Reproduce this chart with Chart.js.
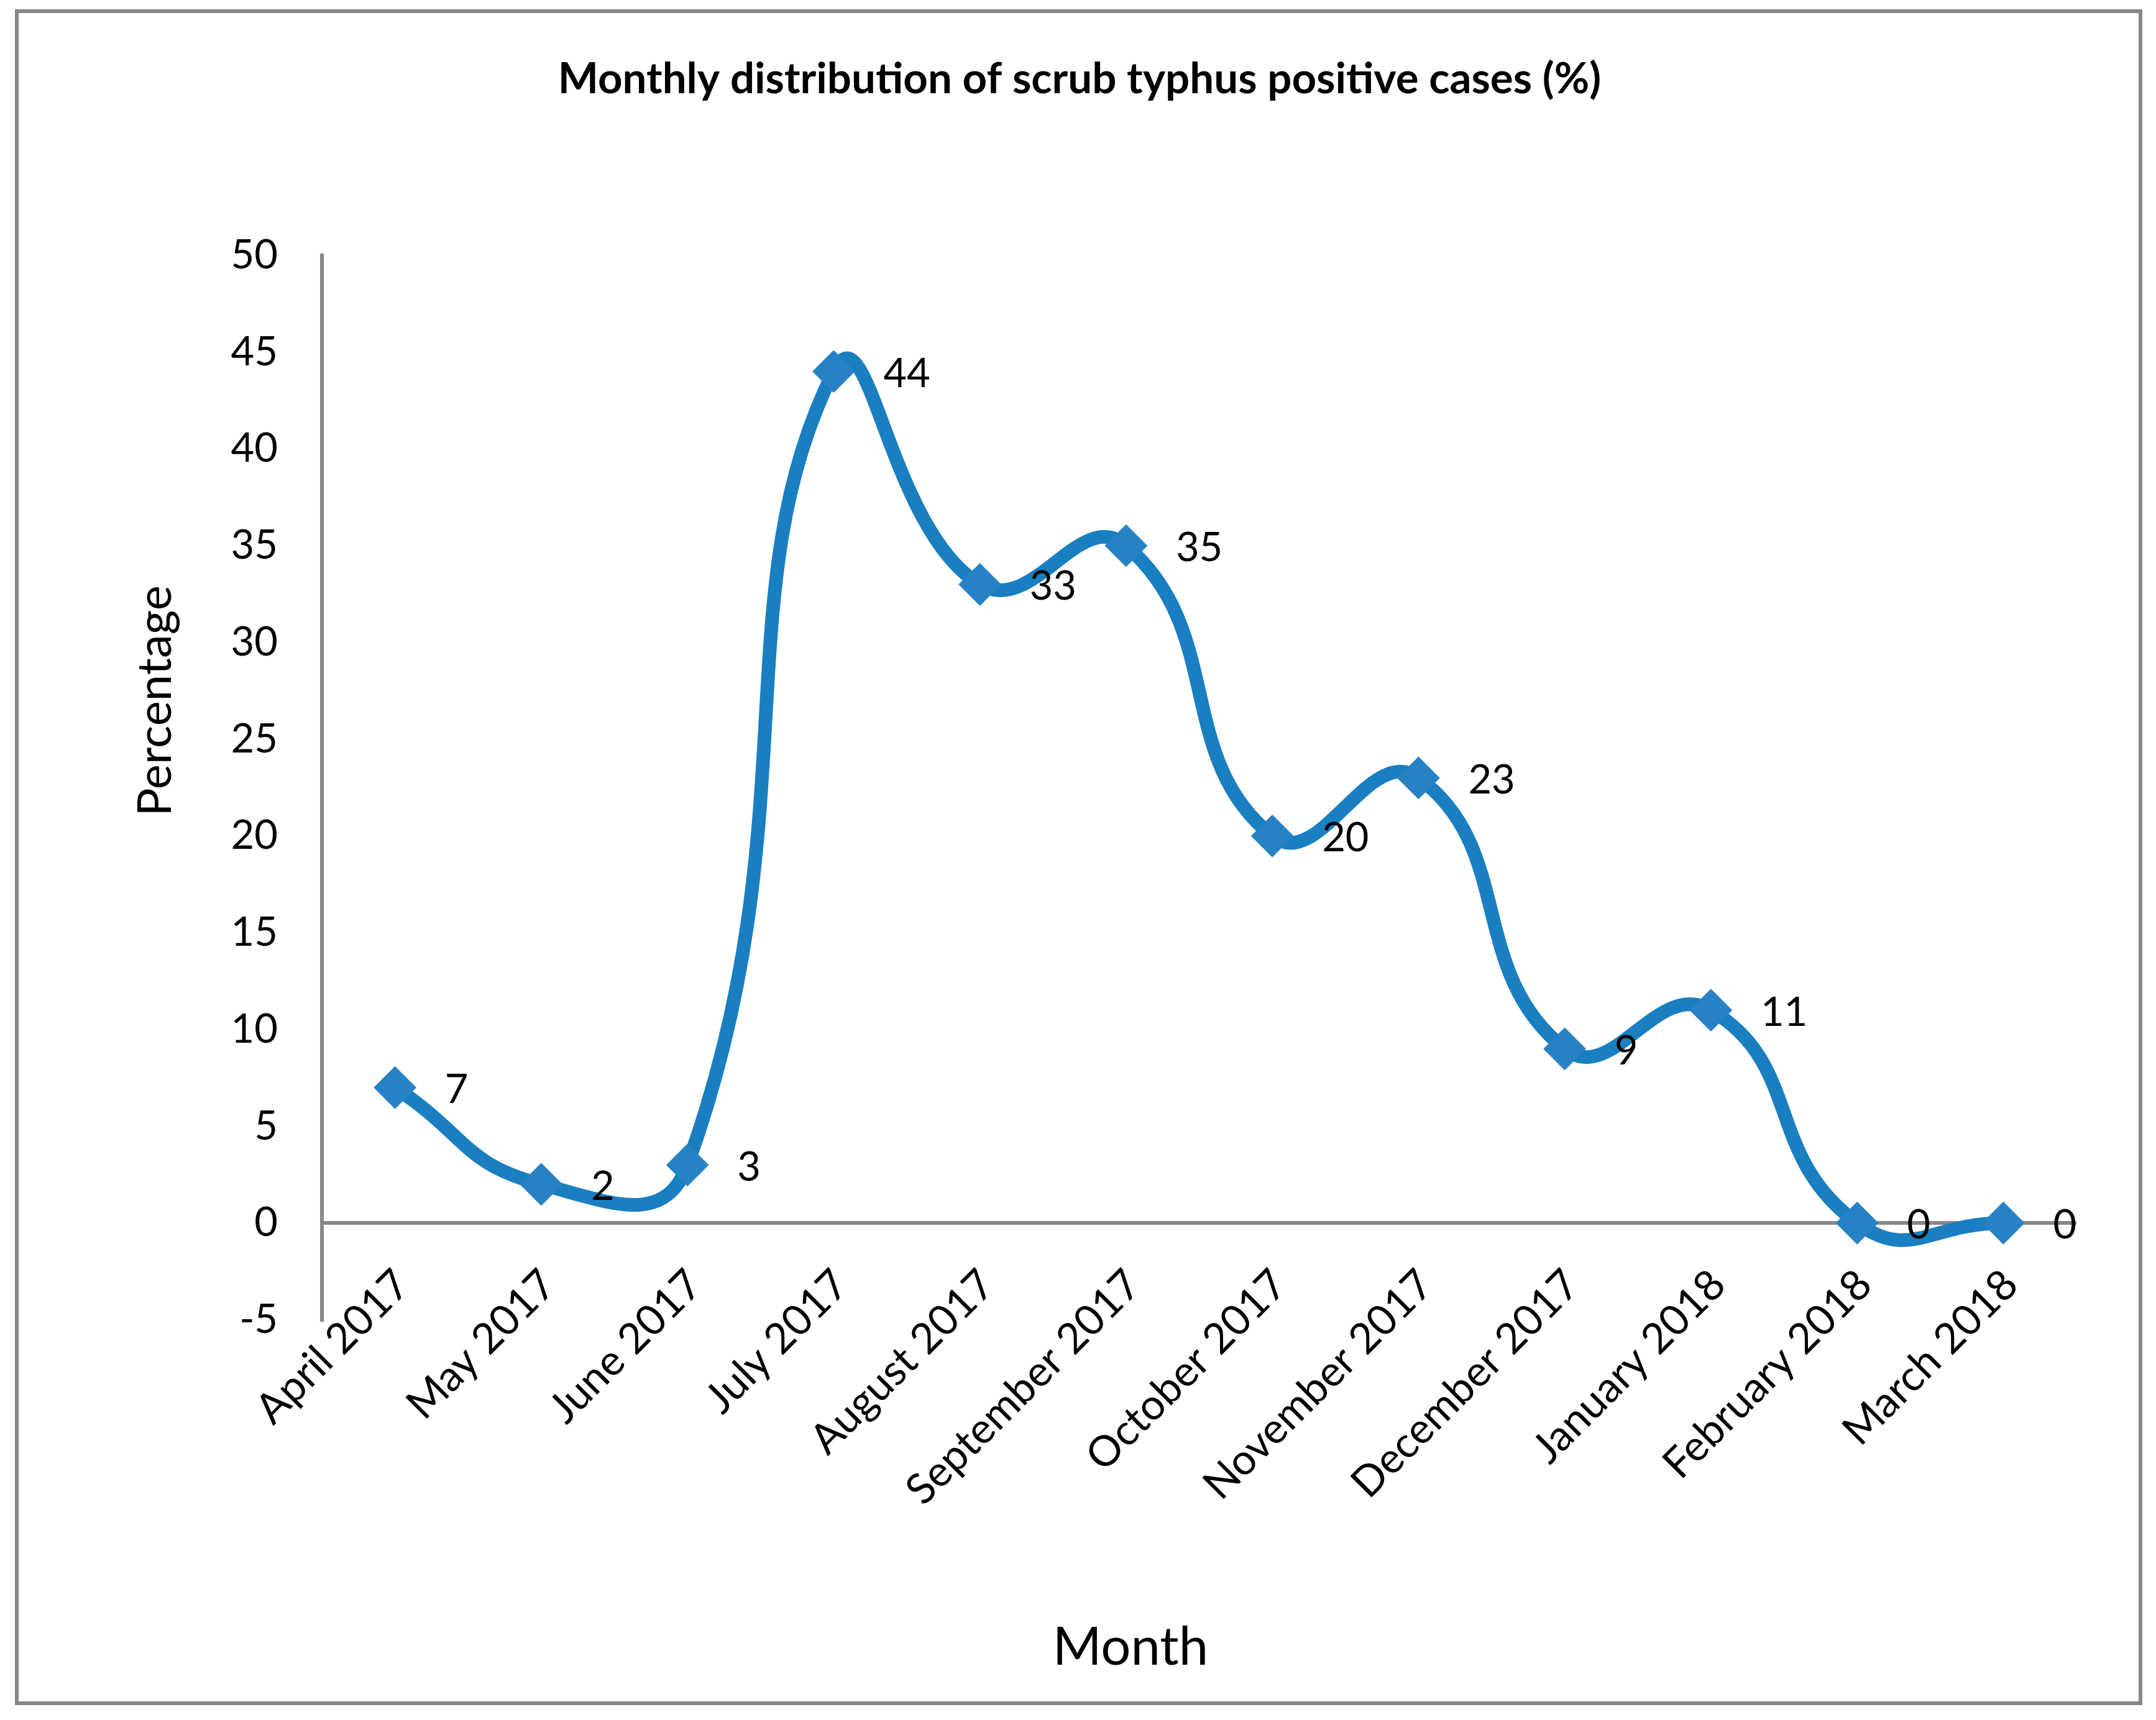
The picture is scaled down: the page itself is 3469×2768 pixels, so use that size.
<!DOCTYPE html>
<html>
<head>
<meta charset="utf-8">
<script src="https://cdn.jsdelivr.net/npm/chart.js@4.4.1/dist/chart.umd.min.js"></script>
<style>
  html, body { margin: 0; padding: 0; background: #fff; }
  #wrap { width: 3469px; height: 2768px; }
</style>
</head>
<body>
<div id="wrap"><canvas id="chart"></canvas></div>
<script>
// data
const months = ['April 2017', 'May 2017', 'June 2017', 'July 2017', 'August 2017', 'September 2017',
  'October 2017', 'November 2017', 'December 2017', 'January 2018', 'February 2018', 'March 2018'];
const positivePct = [7, 2, 3, 44, 33, 35, 20, 23, 9, 11, 0, 0];
const yMin = -5;
const yMax = 50;
const yStep = 5;

const chartTitle = 'Monthly distribution of scrub typhus positive cases (%)';
const xTitle = 'Month';
const yTitle = 'Percentage';

const blue = '#1a7fc1';
const axisGrey = '#878787';
const font = 'Lato';

// frame, chart title and axis titles
const decor = {
  id: 'decor',
  beforeDraw(chart) {
    const ctx = chart.ctx;
    ctx.save();
    ctx.fillStyle = '#fff';
    ctx.fillRect(0, 0, chart.width, chart.height);
    ctx.strokeStyle = axisGrey;
    ctx.lineWidth = 6;
    ctx.strokeRect(27, 18, 3417, 2723);

    ctx.fillStyle = '#000';
    ctx.textAlign = 'center';
    ctx.textBaseline = 'middle';
    ctx.font = 'bold 69px ' + font;
    ctx.fillText(chartTitle, 1737, 128);

    ctx.font = '85px ' + font;
    ctx.fillText(xTitle, 1819, 2652);

    ctx.translate(250, 1128);
    ctx.rotate(-Math.PI / 2);
    ctx.font = '76px ' + font;
    ctx.fillText(yTitle, 0, 0);
    ctx.restore();
  }
};

// slanted month labels, tucked up under the zero line like the original
const monthLabels = {
  id: 'monthLabels',
  afterDraw(chart) {
    const ctx = chart.ctx;
    const xs = chart.scales.x;
    const top = chart.chartArea.bottom - 92;
    ctx.save();
    ctx.font = '68px ' + font;
    ctx.fillStyle = '#000';
    ctx.textAlign = 'right';
    ctx.textBaseline = 'top';
    xs.getLabels().forEach((lab, i) => {
      ctx.save();
      ctx.translate(xs.getPixelForValue(i) - 12, top);
      ctx.rotate(-Math.PI / 4);
      ctx.fillText(lab, 0, 0);
      ctx.restore();
    });
    ctx.restore();
  }
};

// value next to each point
const valueLabels = {
  id: 'valueLabels',
  afterDatasetsDraw(chart) {
    const ctx = chart.ctx;
    const meta = chart.getDatasetMeta(0);
    ctx.save();
    ctx.font = '65px ' + font;
    ctx.fillStyle = '#000';
    ctx.textAlign = 'left';
    ctx.textBaseline = 'middle';
    meta.data.forEach((pt, i) => {
      ctx.fillText(String(positivePct[i]), pt.x + 80, pt.y + 4);
    });
    ctx.restore();
  }
};

new Chart(document.getElementById('chart'), {
  type: 'line',
  data: {
    labels: months,
    datasets: [{
      data: positivePct,
      borderColor: blue,
      borderWidth: 22,
      tension: 0.5,
      pointStyle: 'rectRot',
      pointRadius: 33,
      pointBackgroundColor: '#2782c5',
      pointBorderColor: '#2782c5',
      pointBorderWidth: 2,
      fill: false
    }]
  },
  options: {
    responsive: true,
    maintainAspectRatio: false,
    devicePixelRatio: 1,
    animation: false,
    layout: { padding: { left: 0, top: 411, right: 128, bottom: 0 } },
    plugins: {
      legend: { display: false },
      tooltip: { enabled: false }
    },
    scales: {
      x: {
        offset: true,
        grid: { display: false, drawTicks: false },
        border: { display: false },
        ticks: { display: false, autoSkip: false },
        afterFit(scale) { scale.height = 644; }
      },
      y: {
        min: yMin,
        max: yMax,
        grid: {
          drawTicks: false,
          lineWidth: 6,
          color: c => (c.tick && c.tick.value === 0 ? axisGrey : 'rgba(0,0,0,0)')
        },
        border: { display: true, color: axisGrey, width: 6 },
        ticks: {
          stepSize: yStep,
          color: '#000',
          font: { family: font, size: 65 },
          padding: 71
        },
        afterFit(scale) { scale.width = 518; }
      }
    }
  },
  plugins: [decor, monthLabels, valueLabels]
});
</script>
</body>
</html>
